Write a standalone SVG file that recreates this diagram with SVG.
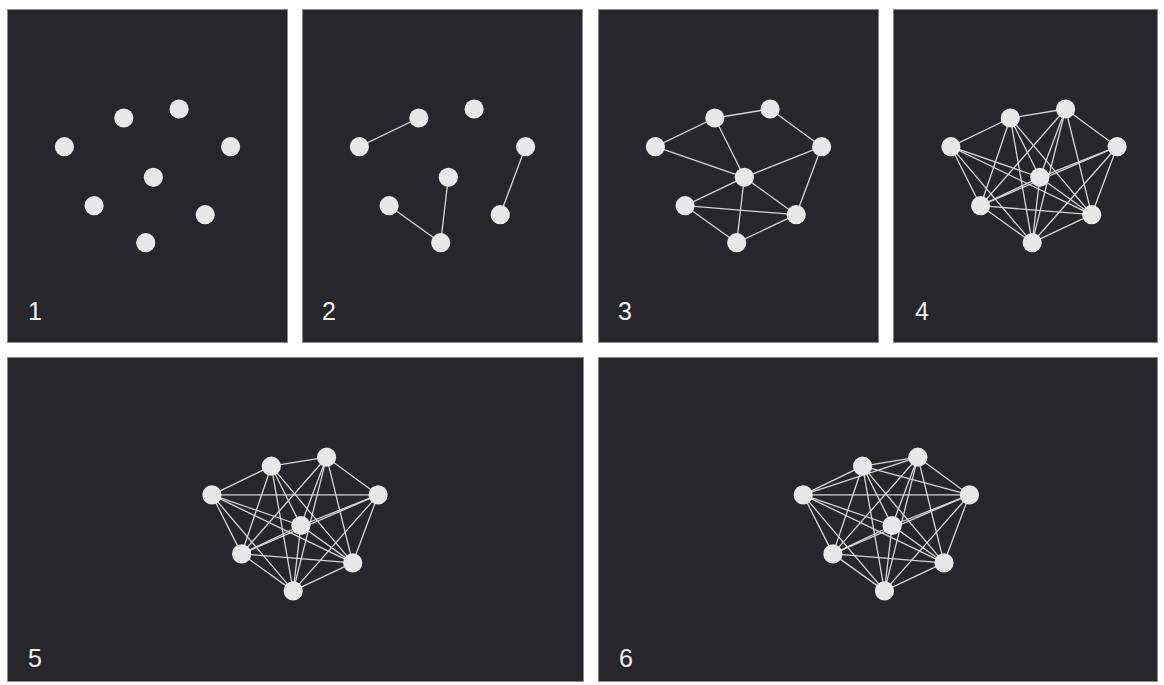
<svg xmlns="http://www.w3.org/2000/svg" width="1164" height="685" viewBox="0 0 1164 685">
<style>
.panel{fill:#27272b;stroke:#8a8a8c;stroke-width:1}
.edge line{stroke:#d6d6d6;stroke-width:1.3;stroke-linecap:round}
.node circle{fill:#e8e8e8}
.lbl{font-family:"Liberation Sans",Arial,sans-serif;font-size:25px;fill:#f2f2f2}
</style>
<rect x="0" y="0" width="1164" height="685" fill="#ffffff"/>
<g id="panels">
<rect class="panel" x="7.5" y="9.5" width="280" height="333"/>
<rect class="panel" x="302.5" y="9.5" width="280" height="333"/>
<rect class="panel" x="598.5" y="9.5" width="280" height="333"/>
<rect class="panel" x="893.5" y="9.5" width="264" height="333"/>
<rect class="panel" x="7.5" y="357.5" width="576" height="324"/>
<rect class="panel" x="598.5" y="357.5" width="559" height="324"/>
</g>
<g id="labels">
<text class="lbl" x="28" y="320">1</text>
<text class="lbl" x="322" y="320">2</text>
<text class="lbl" x="618" y="320">3</text>
<text class="lbl" x="915" y="320">4</text>
<text class="lbl" x="28" y="667">5</text>
<text class="lbl" x="619" y="667">6</text>
</g>

<!-- Panel 1 -->
<g id="panel1">
<g id="p1-A" class="node"><circle cx="64.4" cy="146.7" r="9.6"/></g>
<g id="p1-B" class="node"><circle cx="123.8" cy="118" r="9.6"/></g>
<g id="p1-C" class="node"><circle cx="179.1" cy="109" r="9.6"/></g>
<g id="p1-D" class="node"><circle cx="230.6" cy="146.7" r="9.6"/></g>
<g id="p1-E" class="node"><circle cx="153.3" cy="177.3" r="9.6"/></g>
<g id="p1-F" class="node"><circle cx="94.1" cy="205.7" r="9.6"/></g>
<g id="p1-G" class="node"><circle cx="205.2" cy="214.7" r="9.6"/></g>
<g id="p1-H" class="node"><circle cx="145.7" cy="242.7" r="9.6"/></g>
</g>

<!-- Panel 2 -->
<g id="panel2" transform="translate(295,0)">
<g id="p2-edges" class="edge">
<line x1="64.4" y1="146.7" x2="123.8" y2="118"/>
<line x1="94.1" y1="205.7" x2="145.7" y2="242.7"/>
<line x1="153.3" y1="177.3" x2="145.7" y2="242.7"/>
<line x1="230.6" y1="146.7" x2="205.2" y2="214.7"/>
</g>
<g id="p2-A" class="node"><circle cx="64.4" cy="146.7" r="9.6"/></g>
<g id="p2-B" class="node"><circle cx="123.8" cy="118" r="9.6"/></g>
<g id="p2-C" class="node"><circle cx="179.1" cy="109" r="9.6"/></g>
<g id="p2-D" class="node"><circle cx="230.6" cy="146.7" r="9.6"/></g>
<g id="p2-E" class="node"><circle cx="153.3" cy="177.3" r="9.6"/></g>
<g id="p2-F" class="node"><circle cx="94.1" cy="205.7" r="9.6"/></g>
<g id="p2-G" class="node"><circle cx="205.2" cy="214.7" r="9.6"/></g>
<g id="p2-H" class="node"><circle cx="145.7" cy="242.7" r="9.6"/></g>
</g>

<!-- Panel 3 -->
<g id="panel3" transform="translate(591,0)">
<g id="p3-edges" class="edge">
<line x1="64.4" y1="146.7" x2="123.8" y2="118"/>
<line x1="123.8" y1="118" x2="179.1" y2="109"/>
<line x1="179.1" y1="109" x2="230.6" y2="146.7"/>
<line x1="64.4" y1="146.7" x2="153.3" y2="177.3"/>
<line x1="123.8" y1="118" x2="153.3" y2="177.3"/>
<line x1="230.6" y1="146.7" x2="153.3" y2="177.3"/>
<line x1="230.6" y1="146.7" x2="205.2" y2="214.7"/>
<line x1="153.3" y1="177.3" x2="94.1" y2="205.7"/>
<line x1="153.3" y1="177.3" x2="205.2" y2="214.7"/>
<line x1="153.3" y1="177.3" x2="145.7" y2="242.7"/>
<line x1="94.1" y1="205.7" x2="205.2" y2="214.7"/>
<line x1="94.1" y1="205.7" x2="145.7" y2="242.7"/>
<line x1="205.2" y1="214.7" x2="145.7" y2="242.7"/>
</g>
<g id="p3-A" class="node"><circle cx="64.4" cy="146.7" r="9.6"/></g>
<g id="p3-B" class="node"><circle cx="123.8" cy="118" r="9.6"/></g>
<g id="p3-C" class="node"><circle cx="179.1" cy="109" r="9.6"/></g>
<g id="p3-D" class="node"><circle cx="230.6" cy="146.7" r="9.6"/></g>
<g id="p3-E" class="node"><circle cx="153.3" cy="177.3" r="9.6"/></g>
<g id="p3-F" class="node"><circle cx="94.1" cy="205.7" r="9.6"/></g>
<g id="p3-G" class="node"><circle cx="205.2" cy="214.7" r="9.6"/></g>
<g id="p3-H" class="node"><circle cx="145.7" cy="242.7" r="9.6"/></g>
</g>

<!-- Panel 4 -->
<g id="panel4" transform="translate(886.5,0)">
<g id="p4-edges" class="edge">
<line x1="64.4" y1="146.7" x2="123.8" y2="118"/>
<line x1="64.4" y1="146.7" x2="153.3" y2="177.3"/>
<line x1="64.4" y1="146.7" x2="94.1" y2="205.7"/>
<line x1="64.4" y1="146.7" x2="205.2" y2="214.7"/>
<line x1="64.4" y1="146.7" x2="145.7" y2="242.7"/>
<line x1="123.8" y1="118" x2="179.1" y2="109"/>
<line x1="123.8" y1="118" x2="153.3" y2="177.3"/>
<line x1="123.8" y1="118" x2="94.1" y2="205.7"/>
<line x1="123.8" y1="118" x2="205.2" y2="214.7"/>
<line x1="123.8" y1="118" x2="145.7" y2="242.7"/>
<line x1="179.1" y1="109" x2="230.6" y2="146.7"/>
<line x1="179.1" y1="109" x2="153.3" y2="177.3"/>
<line x1="179.1" y1="109" x2="94.1" y2="205.7"/>
<line x1="179.1" y1="109" x2="205.2" y2="214.7"/>
<line x1="179.1" y1="109" x2="145.7" y2="242.7"/>
<line x1="230.6" y1="146.7" x2="153.3" y2="177.3"/>
<line x1="230.6" y1="146.7" x2="94.1" y2="205.7"/>
<line x1="230.6" y1="146.7" x2="205.2" y2="214.7"/>
<line x1="230.6" y1="146.7" x2="145.7" y2="242.7"/>
<line x1="153.3" y1="177.3" x2="94.1" y2="205.7"/>
<line x1="153.3" y1="177.3" x2="205.2" y2="214.7"/>
<line x1="153.3" y1="177.3" x2="145.7" y2="242.7"/>
<line x1="94.1" y1="205.7" x2="205.2" y2="214.7"/>
<line x1="94.1" y1="205.7" x2="145.7" y2="242.7"/>
<line x1="205.2" y1="214.7" x2="145.7" y2="242.7"/>
</g>
<g id="p4-A" class="node"><circle cx="64.4" cy="146.7" r="9.6"/></g>
<g id="p4-B" class="node"><circle cx="123.8" cy="118" r="9.6"/></g>
<g id="p4-C" class="node"><circle cx="179.1" cy="109" r="9.6"/></g>
<g id="p4-D" class="node"><circle cx="230.6" cy="146.7" r="9.6"/></g>
<g id="p4-E" class="node"><circle cx="153.3" cy="177.3" r="9.6"/></g>
<g id="p4-F" class="node"><circle cx="94.1" cy="205.7" r="9.6"/></g>
<g id="p4-G" class="node"><circle cx="205.2" cy="214.7" r="9.6"/></g>
<g id="p4-H" class="node"><circle cx="145.7" cy="242.7" r="9.6"/></g>
</g>

<!-- Panel 5 -->
<g id="panel5" transform="translate(147.5,348.2)">
<g id="p5-edges" class="edge">
<line x1="64.4" y1="146.7" x2="123.8" y2="118"/>
<line x1="64.4" y1="146.7" x2="230.6" y2="146.7"/>
<line x1="64.4" y1="146.7" x2="153.3" y2="177.3"/>
<line x1="64.4" y1="146.7" x2="94.1" y2="205.7"/>
<line x1="64.4" y1="146.7" x2="205.2" y2="214.7"/>
<line x1="64.4" y1="146.7" x2="145.7" y2="242.7"/>
<line x1="123.8" y1="118" x2="179.1" y2="109"/>
<line x1="123.8" y1="118" x2="153.3" y2="177.3"/>
<line x1="123.8" y1="118" x2="94.1" y2="205.7"/>
<line x1="123.8" y1="118" x2="205.2" y2="214.7"/>
<line x1="123.8" y1="118" x2="145.7" y2="242.7"/>
<line x1="179.1" y1="109" x2="230.6" y2="146.7"/>
<line x1="179.1" y1="109" x2="153.3" y2="177.3"/>
<line x1="179.1" y1="109" x2="94.1" y2="205.7"/>
<line x1="179.1" y1="109" x2="205.2" y2="214.7"/>
<line x1="179.1" y1="109" x2="145.7" y2="242.7"/>
<line x1="230.6" y1="146.7" x2="153.3" y2="177.3"/>
<line x1="230.6" y1="146.7" x2="94.1" y2="205.7"/>
<line x1="230.6" y1="146.7" x2="205.2" y2="214.7"/>
<line x1="230.6" y1="146.7" x2="145.7" y2="242.7"/>
<line x1="153.3" y1="177.3" x2="94.1" y2="205.7"/>
<line x1="153.3" y1="177.3" x2="205.2" y2="214.7"/>
<line x1="153.3" y1="177.3" x2="145.7" y2="242.7"/>
<line x1="94.1" y1="205.7" x2="205.2" y2="214.7"/>
<line x1="94.1" y1="205.7" x2="145.7" y2="242.7"/>
<line x1="205.2" y1="214.7" x2="145.7" y2="242.7"/>
</g>
<g id="p5-A" class="node"><circle cx="64.4" cy="146.7" r="9.6"/></g>
<g id="p5-B" class="node"><circle cx="123.8" cy="118" r="9.6"/></g>
<g id="p5-C" class="node"><circle cx="179.1" cy="109" r="9.6"/></g>
<g id="p5-D" class="node"><circle cx="230.6" cy="146.7" r="9.6"/></g>
<g id="p5-E" class="node"><circle cx="153.3" cy="177.3" r="9.6"/></g>
<g id="p5-F" class="node"><circle cx="94.1" cy="205.7" r="9.6"/></g>
<g id="p5-G" class="node"><circle cx="205.2" cy="214.7" r="9.6"/></g>
<g id="p5-H" class="node"><circle cx="145.7" cy="242.7" r="9.6"/></g>
</g>

<!-- Panel 6 -->
<g id="panel6" transform="translate(738.8,348.2)">
<g id="p6-edges" class="edge">
<line x1="64.4" y1="146.7" x2="123.8" y2="118"/>
<line x1="64.4" y1="146.7" x2="179.1" y2="109"/>
<line x1="64.4" y1="146.7" x2="230.6" y2="146.7"/>
<line x1="64.4" y1="146.7" x2="153.3" y2="177.3"/>
<line x1="64.4" y1="146.7" x2="94.1" y2="205.7"/>
<line x1="64.4" y1="146.7" x2="205.2" y2="214.7"/>
<line x1="64.4" y1="146.7" x2="145.7" y2="242.7"/>
<line x1="123.8" y1="118" x2="179.1" y2="109"/>
<line x1="123.8" y1="118" x2="230.6" y2="146.7"/>
<line x1="123.8" y1="118" x2="153.3" y2="177.3"/>
<line x1="123.8" y1="118" x2="94.1" y2="205.7"/>
<line x1="123.8" y1="118" x2="205.2" y2="214.7"/>
<line x1="123.8" y1="118" x2="145.7" y2="242.7"/>
<line x1="179.1" y1="109" x2="230.6" y2="146.7"/>
<line x1="179.1" y1="109" x2="153.3" y2="177.3"/>
<line x1="179.1" y1="109" x2="94.1" y2="205.7"/>
<line x1="179.1" y1="109" x2="205.2" y2="214.7"/>
<line x1="179.1" y1="109" x2="145.7" y2="242.7"/>
<line x1="230.6" y1="146.7" x2="153.3" y2="177.3"/>
<line x1="230.6" y1="146.7" x2="94.1" y2="205.7"/>
<line x1="230.6" y1="146.7" x2="205.2" y2="214.7"/>
<line x1="230.6" y1="146.7" x2="145.7" y2="242.7"/>
<line x1="153.3" y1="177.3" x2="94.1" y2="205.7"/>
<line x1="153.3" y1="177.3" x2="205.2" y2="214.7"/>
<line x1="153.3" y1="177.3" x2="145.7" y2="242.7"/>
<line x1="94.1" y1="205.7" x2="205.2" y2="214.7"/>
<line x1="94.1" y1="205.7" x2="145.7" y2="242.7"/>
<line x1="205.2" y1="214.7" x2="145.7" y2="242.7"/>
</g>
<g id="p6-A" class="node"><circle cx="64.4" cy="146.7" r="9.6"/></g>
<g id="p6-B" class="node"><circle cx="123.8" cy="118" r="9.6"/></g>
<g id="p6-C" class="node"><circle cx="179.1" cy="109" r="9.6"/></g>
<g id="p6-D" class="node"><circle cx="230.6" cy="146.7" r="9.6"/></g>
<g id="p6-E" class="node"><circle cx="153.3" cy="177.3" r="9.6"/></g>
<g id="p6-F" class="node"><circle cx="94.1" cy="205.7" r="9.6"/></g>
<g id="p6-G" class="node"><circle cx="205.2" cy="214.7" r="9.6"/></g>
<g id="p6-H" class="node"><circle cx="145.7" cy="242.7" r="9.6"/></g>
</g>
</svg>
